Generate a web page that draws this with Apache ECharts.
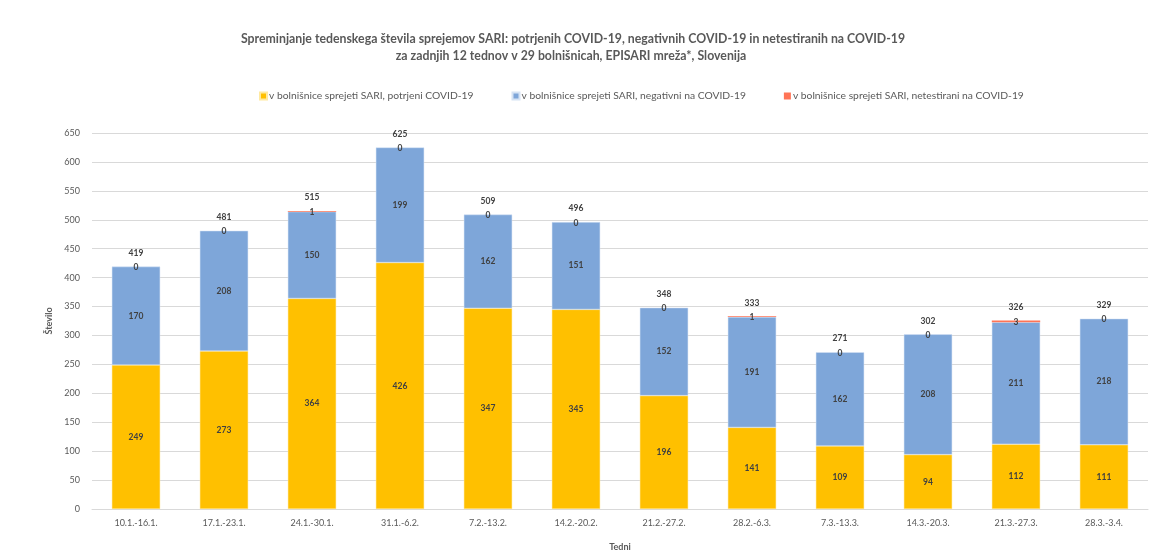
<!DOCTYPE html>
<html><head><meta charset="utf-8">
<script src="https://cdn.jsdelivr.net/npm/echarts@6/dist/echarts.min.js"></script>
<style>html,body{margin:0;padding:0;background:#fff}#c{width:1167px;height:558px}</style>
</head><body><div id="c"></div>
<script>
const categories = ['10.1.-16.1.','17.1.-23.1.','24.1.-30.1.','31.1.-6.2.','7.2.-13.2.','14.2.-20.2.','21.2.-27.2.','28.2.-6.3.','7.3.-13.3.','14.3.-20.3.','21.3.-27.3.','28.3.-3.4.'];
const confirmed = [249,273,364,426,347,345,196,141,109,94,112,111];
const negative = [170,208,150,199,162,151,152,191,162,208,211,218];
const untested = [0,0,1,0,0,0,0,1,0,0,3,0];
const totals = [419,481,515,625,509,496,348,333,271,302,326,329];
const seriesNames = ['v bolnišnice sprejeti SARI, potrjeni COVID-19','v bolnišnice sprejeti SARI, negativni na COVID-19','v bolnišnice sprejeti SARI, netestirani na COVID-19'];
const titleLines = ['Spreminjanje tedenskega števila sprejemov SARI: potrjenih COVID-19, negativnih COVID-19 in netestiranih na COVID-19','za zadnjih 12 tednov v 29 bolnišnicah, EPISARI mreža*, Slovenija'];

const font = 'Lato, "Open Sans", sans-serif';
const lbl = {show:true, position:'inside', color:'#404040', fontSize:8.5, fontWeight:'bold', fontFamily:font};
const tStyle = {fontFamily:font, fontSize:12.3, fontWeight:'bold', color:'#595959'};
const chart = echarts.init(document.getElementById('c'));
chart.setOption({
  animation:false,
  title:[
    {text:titleLines[0], left:568, textAlign:'center', top:28, textStyle:tStyle},
    {text:titleLines[1], left:566, textAlign:'center', top:45, textStyle:tStyle}
  ],
  legend:{top:86, left:254, itemWidth:7, itemHeight:7, itemGap:38, icon:'rect',
    textStyle:{fontFamily:font, fontSize:10.3, color:'#595959', padding:[0,0,0,-3]},
    data:seriesNames},
  grid:{left:92, right:19, top:133, bottom:49, containLabel:false},
  xAxis:{type:'category', data:categories,
    axisLine:{lineStyle:{color:'#D9D9D9'}}, axisTick:{show:false},
    axisLabel:{color:'#595959', fontSize:9, fontFamily:font, margin:10},
    name:'Tedni', nameLocation:'middle', nameGap:34,
    nameTextStyle:{color:'#595959', fontSize:9, fontWeight:'bold', fontFamily:font}},
  yAxis:{type:'value', min:0, max:650, interval:50,
    axisLine:{show:false}, axisTick:{show:false},
    splitLine:{lineStyle:{color:'#D9D9D9'}},
    axisLabel:{color:'#595959', fontSize:9, fontFamily:font, margin:12},
    name:'Število', nameLocation:'middle', nameGap:30, nameRotate:90,
    nameTextStyle:{color:'#595959', fontSize:9, fontWeight:'bold', fontFamily:font}},
  series:[
    {name:seriesNames[0], type:'bar', stack:'s', data:confirmed, barWidth:'55%',
      itemStyle:{color:'#FFC000', borderColor:'#FFE9A0', borderWidth:0.5}, label:lbl},
    {name:seriesNames[1], type:'bar', stack:'s', data:negative,
      itemStyle:{color:'#7EA6D9', borderColor:'#D6E3F4', borderWidth:0.5}, label:lbl},
    {name:seriesNames[2], type:'bar', stack:'s', data:untested,
      itemStyle:{color:'#FF7456'}, label:Object.assign({}, lbl, {position:'inside', offset:[0,1]})},
    {name:'total', type:'bar', stack:'s', data:totals.map(()=>0), itemStyle:{color:'transparent'},
      label:Object.assign({}, lbl, {position:'top', distance:9, formatter:p=>totals[p.dataIndex]}),
      tooltip:{show:false}}
  ]
});
</script></body></html>
